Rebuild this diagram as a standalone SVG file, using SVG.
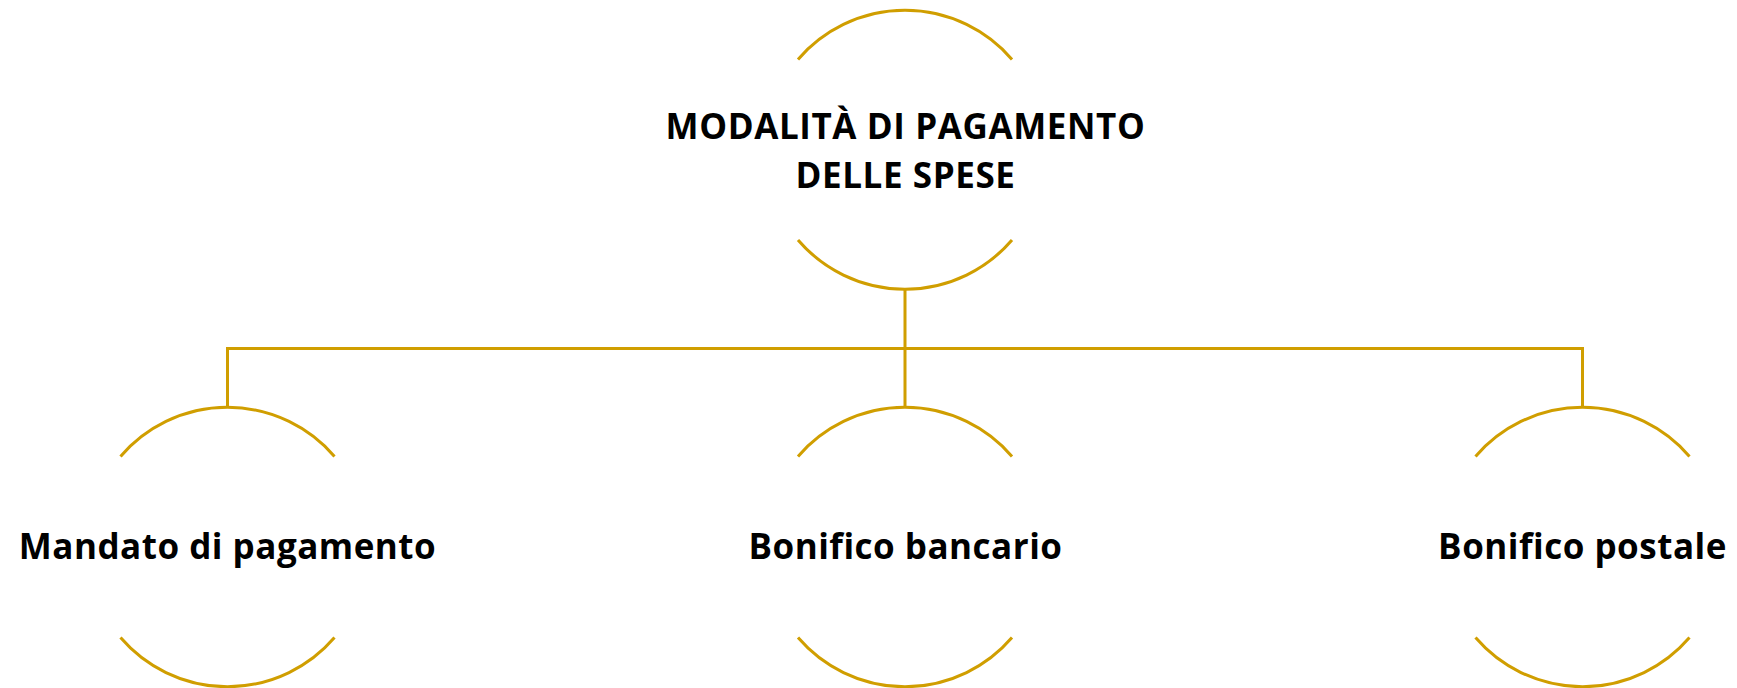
<svg xmlns="http://www.w3.org/2000/svg" width="1737" height="688" viewBox="0 0 1737 688">
<style>
.arc{fill:none;stroke:#D09E00;stroke-width:3;stroke-linecap:butt}
.con{fill:none;stroke:#D09E00;stroke-width:3}
.t{font-family:"Open Sans","Liberation Sans",sans-serif;font-weight:700;fill:#000;text-anchor:middle}
.h{font-size:35px;letter-spacing:0.6px}
.c{font-size:35px;letter-spacing:0.5px}
</style>
<rect width="1737" height="688" fill="#fff"/>
<g id="connectors">
<path class="con" d="M905 290 V348.5 M227.5 407 V348.5 H1582.5 V407 M905 348.5 V407"/>
</g>
<g id="root">
<path class="arc" d="M798 59.5 A141 141 0 0 1 1012 59.5"/>
<path class="arc" d="M798 240 A141 141 0 0 0 1012 240"/>
<text class="t h" x="905.5" y="139">MODALITÀ DI PAGAMENTO</text>
<text class="t h" x="905.5" y="187.5">DELLE SPESE</text>
</g>
<g id="mandato">
<path class="arc" d="M120.5 456.5 A141 141 0 0 1 334.5 456.5"/>
<path class="arc" d="M120.5 637.5 A141 141 0 0 0 334.5 637.5"/>
<text class="t c" x="227.5" y="559">Mandato di pagamento</text>
</g>
<g id="bancario">
<path class="arc" d="M798 456.5 A141 141 0 0 1 1012 456.5"/>
<path class="arc" d="M798 637.5 A141 141 0 0 0 1012 637.5"/>
<text class="t c" x="905.5" y="559">Bonifico bancario</text>
</g>
<g id="postale">
<path class="arc" d="M1475.5 456.5 A141 141 0 0 1 1689.5 456.5"/>
<path class="arc" d="M1475.5 637.5 A141 141 0 0 0 1689.5 637.5"/>
<text class="t c" x="1582.5" y="559">Bonifico postale</text>
</g>
</svg>
